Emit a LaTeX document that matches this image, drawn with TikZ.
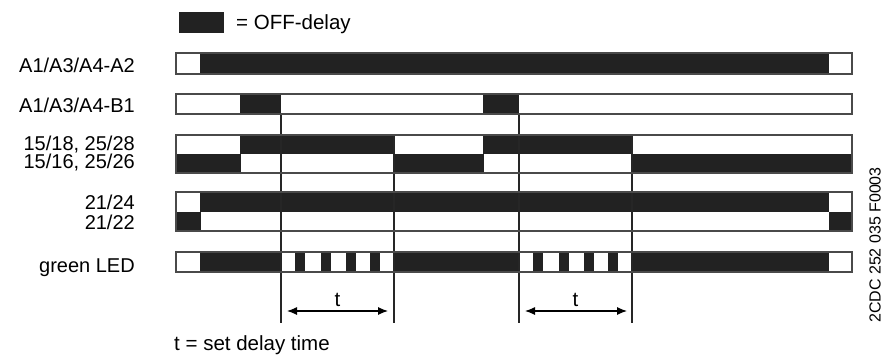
\documentclass[tikz,border=0pt]{standalone}
\usepackage{fontspec}
\setmainfont{Liberation Sans}
\usetikzlibrary{arrows.meta}
\definecolor{barblack}{HTML}{222222}
\definecolor{framegray}{HTML}{4A4A4A}
\begin{document}
\begin{tikzpicture}[x=1pt,y=-1pt,
  lab/.style={anchor=base east, font=\fontsize{20}{24}\selectfont, inner sep=0pt},
  txt/.style={anchor=base west, font=\fontsize{20.5}{24}\selectfont, inner sep=0pt},
  on/.style={fill=barblack},
  frame/.style={draw=framegray, line width=1.3pt},
  tline/.style={draw=black!85, line width=1.1pt},
  dim/.style={draw=black, line width=1.1pt, {Latex[length=10pt,width=8pt]}-{Latex[length=10pt,width=8pt]}}
]
\path[use as bounding box] (0,0) rectangle (893,358);

% legend
\fill[on] (179,12) rectangle (224,33);
\node[txt] (legend) at (236,30) {= OFF-delay};

% labels
\node[lab] (l1) at (135,72.5) {A1/A3/A4-A2};
\node[lab] (l2) at (135,112.5) {A1/A3/A4-B1};
\node[lab, align=right, font=\fontsize{20}{18.5}\selectfont] (l3) at (135,168.5) {15/18, 25/28\\15/16, 25/26};
\node[lab] (l5) at (135,209.5) {21/24};
\node[lab] (l6) at (135,229.5) {21/22};
\node[lab] (l7) at (135,272.5) {green LED};

% row 1
\fill[on] (200,53) rectangle (829,74);
% row 2
\fill[on] (240,94) rectangle (281,114);
\fill[on] (483,94) rectangle (519,114);
% row 3
\fill[on] (240,135) rectangle (394,154);
\fill[on] (483,135) rectangle (632,154);
\fill[on] (176,154) rectangle (241,173);
\fill[on] (394,154) rectangle (484,173);
\fill[on] (632,154) rectangle (852,173);
% row 4
\fill[on] (200,192) rectangle (829,212);
\fill[on] (176,212) rectangle (201,231);
\fill[on] (829,212) rectangle (852,231);
% row 5
\fill[on] (200,252) rectangle (281,272);
\foreach \a in {281,519}{
  \foreach \o in {14,40,65,89}{
    \fill[on] (\a+\o,252) rectangle (\a+\o+10,272);
  }
}
\fill[on] (394,252) rectangle (519,272);
\fill[on] (632,252) rectangle (829,272);

% time marks
\coordinate (ta) at (281,114);
\coordinate (tb) at (394,135);
\coordinate (tc) at (519,114);
\coordinate (td) at (632,135);
\coordinate (ta2) at (281,323);
\coordinate (tb2) at (394,323);
\coordinate (tc2) at (519,323);
\coordinate (td2) at (632,323);
\draw[tline] (ta) -- (ta2);
\draw[tline] (tb) -- (tb2);
\draw[tline] (tc) -- (tc2);
\draw[tline] (td) -- (td2);

% frames
\draw[frame] (176,53) rectangle (852,74);
\draw[frame] (176,94) rectangle (852,114);
\draw[frame] (176,135) rectangle (852,173);
\draw[frame] (176,192) rectangle (852,231);
\draw[frame] (176,252) rectangle (852,272);

% dimension arrows
\coordinate (a1) at (287,311);
\coordinate (b1) at (388,311);
\coordinate (a2) at (525,311);
\coordinate (b2) at (627,311);
\draw[dim] (a1) -- (b1);
\draw[dim] (a2) -- (b2);
\node[txt, anchor=base] (t1) at (337.5,306) {t};
\node[txt, anchor=base] (t2) at (575.5,306) {t};

\node[txt] (note) at (174,350) {t = set delay time};

\node[rotate=90, font=\fontsize{16}{18}\selectfont, inner sep=0pt] (code) at (875,245) {2CDC 252 035 F0003};
\end{tikzpicture}
\end{document}
